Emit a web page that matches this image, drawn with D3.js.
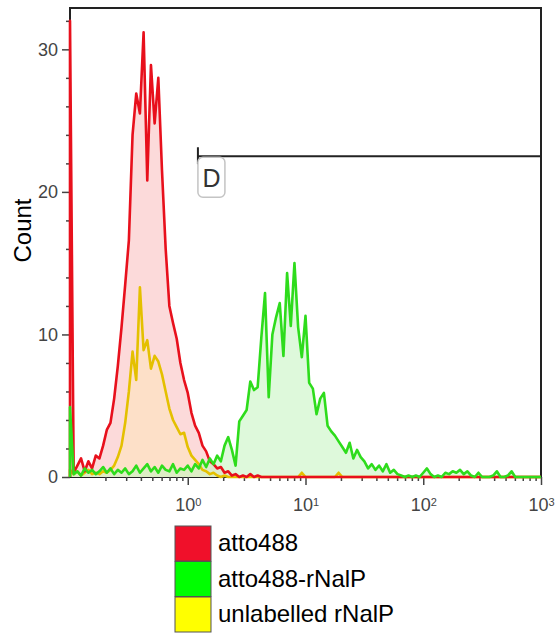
<!DOCTYPE html>
<html>
<head>
<meta charset="utf-8">
<script src="https://cdn.jsdelivr.net/npm/d3@7"></script>
<style>
  body { margin: 0; background: #fff; }
  svg { font-family: "Liberation Sans", Arial, sans-serif; }
  .axis text { fill: #444; font-size: 18px; }
  .axis line { stroke: #444; stroke-width: 1.5; }
  .legend text { font-size: 24px; fill: #000; }
</style>
</head>
<body>
<svg id="chart"></svg>
<script>
// Channel positions: 32 channels per decade, from 10^-1 to 10^3
const channels = d3.range(129).map(i => Math.pow(10, -1 + i / 32));

const atto488 = [
  32, 0.3, 0.8, 1.3, 0.4, 1.1, 0.6, 1.5, 1.3, 2.2,
  3.3, 3.8, 5.5, 7.8, 10.5, 13.5, 16.6, 24, 26.9, 25.5,
  31.2, 20.8, 28.9, 24.8, 28, 21.5, 16, 12, 10.8, 9.7,
  8, 6.8, 5.9, 4.5, 3.6, 3.1, 2.2, 1.8, 1.1, 0.9,
  0.6, 0.7, 0.3, 0.4, 0.1, 0.2, 0, 0.1, 0, 0.2,
  0, 0.1, 0, 0, 0, 0, 0, 0, 0, 0,
  0, 0, 0, 0, 0, 0, 0, 0, 0, 0,
  0, 0, 0, 0, 0, 0, 0, 0, 0, 0,
  0, 0, 0, 0, 0, 0, 0, 0, 0, 0,
  0, 0, 0, 0, 0, 0, 0, 0, 0, 0,
  0, 0, 0, 0, 0, 0, 0, 0, 0, 0,
  0, 0, 0, 0, 0, 0, 0, 0, 0, 0,
  0, 0, 0, 0, 0, 0, 0, 0, 0
];

const attoNalP = [
  4.9, 0.2, 0.4, 0.1, 0.6, 0.3, 0.5, 0.2, 0.4, 0.7,
  0.3, 0.6, 0.2, 0.5, 0.3, 0.6, 0.2, 0.4, 0.8, 0.3,
  0.6, 0.9, 0.4, 0.7, 0.3, 0.8, 0.5, 0.4, 0.9, 0.3,
  0.6, 0.5, 0.8, 0.4, 0.9, 0.6, 1.2, 0.7, 1.3, 0.9,
  1.5, 1.1, 2.2, 2.8, 1.9, 0.8, 3.9, 4.3, 4.7, 6.7,
  6.1, 6.3, 9.8, 12.9, 5.6, 10, 11.2, 12.2, 8.5, 14.3,
  10.6, 15, 10.5, 8.4, 11.3, 6.6, 6.2, 4.4, 5.5, 5.9,
  3.6, 3.2, 2.9, 2.5, 2.1, 1.7, 2.4, 1.3, 1.9, 1.4,
  1.1, 0.6, 0.9, 0.5, 0.8, 0.4, 0.9, 0.3, 0.5, 0.2,
  0.1, 0, 0.1, 0, 0.1, 0, 0.3, 0.6, 0.2, 0,
  0.1, 0, 0.3, 0.2, 0.4, 0.3, 0.5, 0.2, 0.4, 0.1,
  0, 0.3, 0, 0, 0, 0.1, 0.4, 0, 0, 0.1,
  0.4, 0, 0, 0, 0, 0, 0, 0, 0
];

const unlabelled = [
  0.5, 0.2, 0.4, 0.1, 0.3, 0.5, 0.2, 0.3, 0.2, 0.4,
  0.3, 0.5, 0.8, 1.4, 2.2, 3.8, 6, 8.8, 6.8, 13.3,
  8.9, 9.6, 7.6, 8.5, 8.1, 7.2, 6, 4.8, 4, 3.5,
  3, 3.1, 2.1, 1.5, 1.2, 0.9, 0.5, 0.4, 0.2, 0.3,
  0.1, 0, 0.1, 0, 0, 0, 0, 0, 0, 0,
  0, 0, 0, 0, 0, 0, 0, 0, 0, 0,
  0, 0, 0, 0.3, 0, 0, 0, 0, 0, 0,
  0, 0, 0, 0.3, 0, 0, 0, 0, 0, 0,
  0, 0, 0, 0, 0, 0, 0, 0, 0, 0,
  0, 0, 0, 0, 0, 0, 0, 0, 0, 0,
  0, 0, 0, 0, 0, 0, 0, 0, 0, 0,
  0, 0, 0, 0, 0, 0, 0, 0, 0, 0,
  0, 0, 0, 0, 0, 0, 0, 0, 0
];

const yMajor = [0, 10, 20, 30];
const yMinor = [2, 4, 6, 8, 12, 14, 16, 18, 22, 24, 26, 28, 32];
const xMajor = [1, 10, 100, 1000];
const xMinor = [-1, 0, 1, 2].flatMap(e => [2, 3, 4, 5, 6, 7, 8, 9].map(m => m * Math.pow(10, e)));

const legendLabels = ['atto488', 'atto488-rNalP', 'unlabelled rNalP'];
const legendColors = ['#f0102a', '#00ff00', '#ffff00'];

// gate "D": from x = 1.22 to the right edge at count 22.5
const gateRange = [1.22, 1000];
const gateLevel = 22.5;
const gateLabel = 'D';

const width = 555, height = 635;
const margin = {top: 8, right: 14, bottom: 158, left: 70};
const innerW = width - margin.left - margin.right;
const innerH = height - margin.top - margin.bottom;

const svg = d3.select('#chart')
    .attr('width', width)
    .attr('height', height);

const chart = svg.append('g')
    .attr('transform', `translate(${margin.left},${margin.top})`);

const xScale = d3.scaleLog()
    .domain([0.1, 1000])
    .range([0, innerW]);

const yScale = d3.scaleLinear()
    .domain([0, 32.9])
    .range([innerH, 0]);

// Frame
chart.append('rect')
    .attr('x', 0).attr('y', 0)
    .attr('width', innerW).attr('height', innerH)
    .attr('fill', 'none')
    .attr('stroke', '#222')
    .attr('stroke-width', 2);

// Axes (minor ticks first, then major with labels)
chart.append('g')
    .attr('class', 'axis')
    .call(d3.axisLeft(yScale).tickValues(yMinor).tickSize(4).tickFormat(''))
    .call(g => g.select('.domain').remove());

chart.append('g')
    .attr('class', 'axis')
    .call(d3.axisLeft(yScale).tickValues(yMajor).tickSize(8).tickPadding(4))
    .call(g => g.select('.domain').remove());

chart.append('g')
    .attr('class', 'axis')
    .attr('transform', `translate(0,${innerH})`)
    .call(d3.axisBottom(xScale).tickValues(xMinor).tickSize(4).tickFormat(''))
    .call(g => g.select('.domain').remove());

const xAxisG = chart.append('g')
    .attr('class', 'axis')
    .attr('transform', `translate(0,${innerH})`)
    .call(d3.axisBottom(xScale).tickValues(xMajor).tickSize(8).tickPadding(13).tickFormat(''))
    .call(g => g.select('.domain').remove());

xAxisG.selectAll('.tick text')
    .attr('dy', '0.71em')
    .each(function(d) {
      const t = d3.select(this);
      t.append('tspan').text('10');
      t.append('tspan')
          .attr('dy', '-0.45em')
          .style('font-size', '11px')
          .text(Math.round(Math.log10(d)));
    });

// Histograms
const series = [
  {name: 'unlabelled', values: unlabelled, line: '#e4c000', fill: '#fde0c8'},
  {name: 'atto488', values: atto488, line: '#e8101c', fill: '#fcdada'},
  {name: 'attoNalP', values: attoNalP, line: '#2edc1c', fill: 'rgba(200,245,195,0.6)'}
];

const toPoints = vals => [[channels[0], 0]].concat(vals.map((v, i) => [channels[i], v]));

const area = d3.area()
    .x(d => xScale(d[0]))
    .y0(yScale(0))
    .y1(d => yScale(d[1]));

const line = d3.line()
    .x(d => xScale(d[0]))
    .y(d => yScale(d[1]));

// fills: red below yellow so the overlap looks peach
[series[1], series[0], series[2]].forEach(s => {
  chart.append('path')
      .datum(toPoints(s.values))
      .attr('fill', s.fill)
      .attr('d', area);
});

series.forEach(s => {
  chart.append('path')
      .datum(toPoints(s.values))
      .attr('fill', 'none')
      .attr('stroke', s.line)
      .attr('stroke-width', 2.6)
      .attr('stroke-linejoin', 'round')
      .attr('d', line);
});

// Gate D
const gate = chart.append('g');
gate.append('line')
    .attr('x1', xScale(gateRange[0])).attr('x2', xScale(gateRange[1]))
    .attr('y1', yScale(gateLevel)).attr('y2', yScale(gateLevel))
    .attr('stroke', '#222').attr('stroke-width', 2);
gate.append('line')
    .attr('x1', xScale(gateRange[0])).attr('x2', xScale(gateRange[0]))
    .attr('y1', yScale(gateLevel) - 9).attr('y2', yScale(gateLevel) + 8)
    .attr('stroke', '#222').attr('stroke-width', 2);
gate.append('rect')
    .attr('x', xScale(gateRange[0]))
    .attr('y', yScale(gateLevel) + 1)
    .attr('width', 27).attr('height', 40)
    .attr('rx', 5)
    .attr('fill', '#fff')
    .attr('stroke', '#c4c4c4')
    .attr('stroke-width', 1.5);
gate.append('text')
    .attr('x', xScale(gateRange[0]) + 13.5)
    .attr('y', yScale(gateLevel) + 31)
    .attr('text-anchor', 'middle')
    .attr('fill', '#333')
    .style('font-size', '25px')
    .text(gateLabel);

// Y axis title
svg.append('text')
    .attr('transform', `translate(31,${margin.top + innerH / 2 - 12}) rotate(-90)`)
    .attr('text-anchor', 'middle')
    .style('font-size', '24px')
    .text('Count');

// Legend
const legend = svg.append('g')
    .attr('class', 'legend')
    .attr('transform', 'translate(175,526)');

const rows = legend.selectAll('g')
    .data(legendLabels)
  .join('g')
    .attr('transform', (d, i) => `translate(0,${i * 35.5})`);

rows.append('rect')
    .attr('width', 36).attr('height', 35)
    .attr('fill', (d, i) => legendColors[i])
    .attr('stroke', '#555')
    .attr('stroke-width', 1);

rows.append('text')
    .attr('x', 43)
    .attr('y', 25)
    .text(d => d);
</script>
</body>
</html>
